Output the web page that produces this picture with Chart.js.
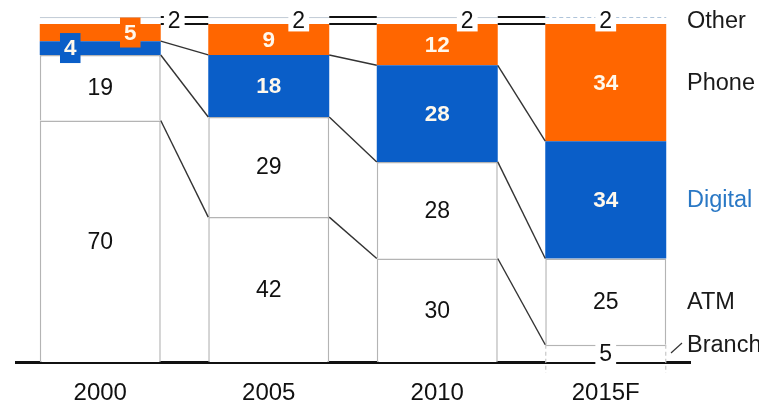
<!DOCTYPE html>
<html>
<head>
<meta charset="utf-8">
<script src="https://cdn.jsdelivr.net/npm/chart.js@4/dist/chart.umd.min.js"></script>
<style>
  html, body { margin: 0; padding: 0; background: #fff; }
  #wrap { width: 759px; height: 405px; position: relative; }
</style>
</head>
<body>
<div id="wrap"><canvas id="c" width="759" height="405"></canvas></div>
<script>
// Share of transactions by channel (%)
const years   = ['2000', '2005', '2010', '2015F'];
const branch  = [70, 42, 30, 5];
const atm     = [19, 29, 28, 25];
const digital = [4, 18, 28, 34];
const phone   = [5, 9, 12, 34];
const other   = [2, 2, 2, 2];
const channels = ['Branch', 'ATM', 'Digital', 'Phone', 'Other'];

const ORANGE = '#FF6600';
const BLUE = '#0A5EC8';
const EDGE = '#B4B4B4';
const FONT = "'Liberation Sans', Arial, Helvetica, sans-serif";
const LIGHT_TEXT = '#FFF8EC';

// how each series' value labels are drawn
const labelStyle = [
  { color: '#111', weight: 'normal', size: 23, dx: [0, 0, 0, 0],     box: [null, null, null, '#fff'], boxH: 24 },
  { color: '#111', weight: 'normal', size: 23, dx: [0, 0, 0, 0],     box: [null, null, null, null],   boxH: 24 },
  { color: LIGHT_TEXT, weight: 'bold', size: 22.5, dx: [-30, 0, 0, 0], box: [BLUE, null, null, null],   boxH: 30 },
  { color: LIGHT_TEXT, weight: 'bold', size: 22.5, dx: [30, 0, 0, 0],  box: [ORANGE, null, null, null], boxH: 30 },
  { color: '#111', weight: 'normal', size: 23, dx: [74, 30, 30, 0],  box: ['#fff', '#fff', '#fff', '#fff'], boxH: 22 }
];

const topOnly = w => ({ top: w, right: 0, bottom: 0, left: 0 });

const datasets = [
  { label: channels[0], data: branch, backgroundColor: '#fff', borderColor: EDGE,
    borderWidth: [1.5, 1.5, 1.5, topOnly(1.5)], borderSkipped: 'start' },
  { label: channels[1], data: atm, backgroundColor: '#fff', borderColor: EDGE,
    borderWidth: 1.5, borderSkipped: 'start' },
  { label: channels[2], data: digital, backgroundColor: BLUE, borderWidth: 0 },
  { label: channels[3], data: phone, backgroundColor: ORANGE, borderWidth: 0 },
  { label: channels[4], data: other, backgroundColor: '#fff', borderColor: '#C5CED8',
    borderWidth: [topOnly(1.2), topOnly(1.2), topOnly(1.2), 0] }
];

const overlay = {
  id: 'overlay',
  afterDraw(chart) {
    const ctx = chart.ctx;
    const metas = channels.map((_, k) => chart.getDatasetMeta(k));
    const last = years.length - 1;
    ctx.save();

    // dashed outlines on the forecast bar
    const fb = metas[0].data[last];
    ctx.setLineDash([4, 3]);
    ctx.strokeStyle = '#C8C8C8';
    ctx.lineWidth = 1.2;
    [fb.x - fb.width / 2 + 0.5, fb.x + fb.width / 2 - 0.5].forEach(x => {
      ctx.beginPath();
      ctx.moveTo(x, fb.y);
      ctx.lineTo(x, fb.base + 11);
      ctx.stroke();
    });
    const fo = metas[4].data[last];
    ctx.strokeStyle = '#AFC4DA';
    ctx.beginPath();
    ctx.moveTo(fo.x - fo.width / 2, fo.y + 0.5);
    ctx.lineTo(fo.x + fo.width / 2, fo.y + 0.5);
    ctx.stroke();
    ctx.setLineDash([]);

    // connectors between adjacent bars at each cumulative boundary
    metas.forEach((meta, k) => {
      ctx.strokeStyle = k >= 3 ? '#111' : '#333';
      ctx.lineWidth = k >= 3 ? 2 : 1.4;
      for (let i = 0; i < meta.data.length - 1; i++) {
        const a = meta.data[i], b = meta.data[i + 1];
        ctx.beginPath();
        ctx.moveTo(a.x + a.width / 2, a.y);
        ctx.lineTo(b.x - b.width / 2, b.y);
        ctx.stroke();
      }
    });

    // value labels
    ctx.textAlign = 'center';
    ctx.textBaseline = 'middle';
    metas.forEach((meta, k) => {
      const st = labelStyle[k];
      ctx.font = st.weight + ' ' + st.size + 'px ' + FONT;
      meta.data.forEach((el, i) => {
        const v = chart.data.datasets[k].data[i];
        const cx = el.x + st.dx[i];
        const cy = (el.y + el.base) / 2;
        const txt = String(v);
        if (st.box[i]) {
          const w = ctx.measureText(txt).width + 8;
          ctx.fillStyle = st.box[i];
          ctx.fillRect(cx - w / 2, cy - st.boxH / 2, w, st.boxH);
        }
        ctx.fillStyle = st.color;
        ctx.fillText(txt, cx, cy + 1);
      });
    });

    // series names beside the forecast bar
    ctx.textAlign = 'left';
    ctx.font = '23.5px ' + FONT;
    metas.forEach((meta, k) => {
      const el = meta.data[last];
      let cy = (el.y + el.base) / 2;
      if (k === 4) cy = el.y + 4;
      if (k === 0) cy -= 9;
      ctx.fillStyle = k === 2 ? '#2A78C5' : '#1a1a1a';
      ctx.fillText(channels[k], 687, cy + 1);
    });
    // small leader for Branch
    ctx.strokeStyle = '#333';
    ctx.lineWidth = 1.2;
    ctx.beginPath();
    ctx.moveTo(671, 353);
    ctx.lineTo(682, 343);
    ctx.stroke();

    ctx.restore();
  }
};

new Chart(document.getElementById('c'), {
  type: 'bar',
  data: { labels: years, datasets },
  options: {
    responsive: false,
    animation: false,
    events: [],
    layout: { padding: { left: 16, right: 69, top: 17, bottom: 0 } },
    plugins: { legend: { display: false }, tooltip: { enabled: false } },
    datasets: { bar: { categoryPercentage: 0.718, barPercentage: 1 } },
    scales: {
      x: {
        stacked: true,
        z: 1,
        grid: { display: false, drawTicks: false },
        border: { display: true, color: '#111', width: 3 },
        ticks: { color: '#111', font: { family: FONT, size: 24 }, padding: 17 },
        afterFit(scale) { scale.height = 43; }
      },
      y: {
        stacked: true,
        display: false,
        min: 0,
        max: 100
      }
    }
  },
  plugins: [overlay]
});
</script>
</body>
</html>
